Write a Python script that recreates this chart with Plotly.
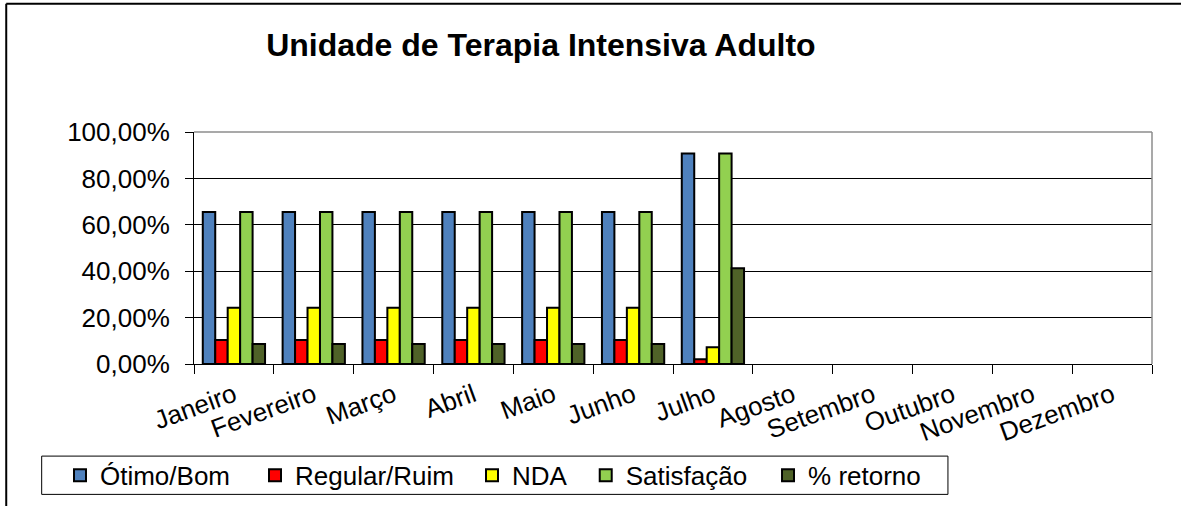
import plotly.graph_objects as go

meses = ["Janeiro", "Fevereiro", "Março", "Abril", "Maio", "Junho", "Julho",
         "Agosto", "Setembro", "Outubro", "Novembro", "Dezembro"]
otimo_bom = [0.655, 0.655, 0.655, 0.655, 0.655, 0.655, 0.907, None, None, None, None, None]
regular_ruim = [0.103, 0.103, 0.103, 0.103, 0.103, 0.103, 0.021, None, None, None, None, None]
nda = [0.242, 0.242, 0.242, 0.242, 0.242, 0.242, 0.072, None, None, None, None, None]
satisfacao = [0.655, 0.655, 0.655, 0.655, 0.655, 0.655, 0.907, None, None, None, None, None]
retorno = [0.086, 0.086, 0.086, 0.086, 0.086, 0.086, 0.413, None, None, None, None, None]

series = [
    ("Ótimo/Bom", otimo_bom, "#4F81BD"),
    ("Regular/Ruim", regular_ruim, "#FF0000"),
    ("NDA", nda, "#FFFF00"),
    ("Satisfação", satisfacao, "#92D050"),
    ("% retorno", retorno, "#4F6228"),
]

FONT = "Liberation Sans, Arial, sans-serif"
legend_ids = ["legend", "legend2", "legend3", "legend4", "legend5"]
legend_x = [-0.1399, 0.0637, 0.2902, 0.4089, 0.5992]

fig = go.Figure()
for (name, vals, color), lid in zip(series, legend_ids):
    fig.add_trace(go.Bar(
        x=meses, y=vals, name=name, legend=lid,
        marker=dict(color=color, line=dict(color="#000000", width=2)),
    ))

layout_legends = {}
for lid, lx in zip(legend_ids, legend_x):
    layout_legends[lid] = dict(orientation="h", x=lx, xanchor="left", y=-0.48, yanchor="middle",
                               borderwidth=0, bgcolor="rgba(0,0,0,0)",
                               font=dict(family=FONT, size=26))

fig.update_layout(
    width=1181, height=506,
    margin=dict(l=194, r=29, t=132, b=142, autoexpand=False),
    paper_bgcolor="white", plot_bgcolor="white",
    separators=",.",
    barmode="group", bargap=0.22, bargroupgap=0,
    font=dict(family=FONT, color="#000000", size=24),
    title=dict(text="<b>Unidade de Terapia Intensiva Adulto</b>",
               x=0.458, xanchor="center", xref="container",
               y=0.911, yanchor="middle", yref="container",
               font=dict(family=FONT, size=32, color="#000000")),
    showlegend=True,
    **layout_legends,
)

fig.update_xaxes(
    type="category", categoryorder="array", categoryarray=meses,
    tickangle=-20, tickfont=dict(family=FONT, size=26), ticklabelstandoff=5,
    showline=True, linecolor="#000000", linewidth=1,
    ticks="outside", ticklen=9, tickcolor="#000000", tickson="boundaries",
    showgrid=False, range=[-0.5, 11.5], automargin=False,
)
fig.update_yaxes(
    range=[0, 1], dtick=0.2, tickformat=".2%",
    tickfont=dict(family=FONT, size=26), ticklabelstandoff=10,
    showline=True, linecolor="#000000", linewidth=1,
    ticks="outside", ticklen=8, tickcolor="#000000",
    showgrid=True, gridcolor="#000000", gridwidth=1, zeroline=False, automargin=False,
)

# plot area border (top and right, gray)
fig.add_shape(type="line", xref="paper", yref="paper", x0=0, x1=1, y0=1, y1=1,
              line=dict(color="#8C8C8C", width=1.5))
fig.add_shape(type="line", xref="paper", yref="paper", x0=1, x1=1, y0=0, y1=1,
              line=dict(color="#8C8C8C", width=1.5))
# legend frame
fig.add_shape(type="rect", xref="paper", yref="paper", x0=-0.159, x1=0.787, y0=-0.562, y1=-0.397,
              line=dict(color="#000000", width=1), layer="below")
# chart outer border (left and top)
fig.add_shape(type="line", xref="paper", yref="paper", x0=-0.196, x1=1.1, y0=1.553, y1=1.553,
              line=dict(color="#000000", width=2))
fig.add_shape(type="line", xref="paper", yref="paper", x0=-0.196, x1=-0.196, y0=-0.7, y1=1.553,
              line=dict(color="#000000", width=2))

fig.write_html("out.html", config={"displayModeBar": False},
               post_script="document.body.style.margin='0';document.body.style.overflow='hidden';")
